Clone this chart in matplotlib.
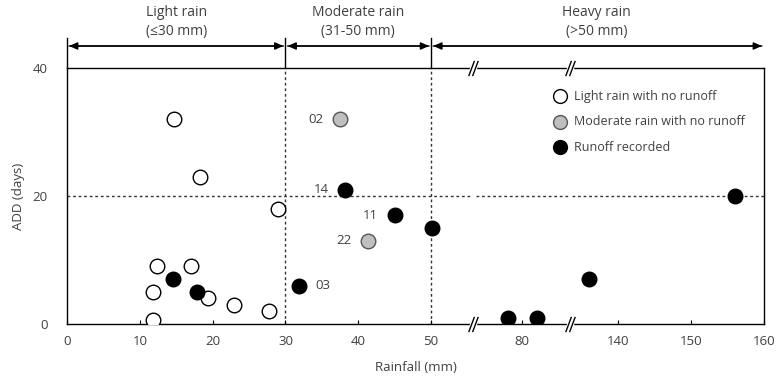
import numpy as np
import matplotlib.pyplot as plt
from matplotlib.path import Path

plt.rcParams['font.family'] = ['Open Sans', 'DejaVu Sans']

# data
light_x = [14.7, 18.2, 29.0, 12.3, 17.0, 11.8, 19.3, 22.9, 27.7, 11.8]
light_y = [32, 23, 18, 9, 9, 5, 4, 3, 2, 0.6]
moderate_x = [37.5, 41.3]
moderate_y = [32, 13]
moderate_lbl = ['02', '22']
runoff_x = [14.5, 17.8, 31.8, 38.2, 45.0, 50.1, 78, 82, 136, 156]
runoff_y = [7, 5, 6, 21, 17, 15, 1, 1, 7, 20]
runoff_lbl = ['', '', '03', '14', '11', '', '', '', '', '']
xticks = [0, 10, 20, 30, 40, 50, 80, 140, 150, 160]
yticks = [0, 20, 40]
classes = ['Light rain\n(≤30 mm)', 'Moderate rain\n(31-50 mm)', 'Heavy rain\n(>50 mm)']

# broken x axis: piecewise linear mapping
bx = [0, 55, 74, 86, 134, 170]
bu = [0, 55, 56.5, 68.5, 69.7, 105.7]
fwd = lambda x: np.interp(x, bx, bu)
inv = lambda u: np.interp(u, bu, bx)

txt = '#404040'
fig = plt.figure(figsize=(7.77, 3.88), dpi=100)
ax = fig.add_axes([0.0862, 0.165, 0.8971, 0.6597])
ax.set_xscale('function', functions=(fwd, inv))
ax.set_xlim(0, 160)
ax.set_ylim(0, 40)

ax.scatter(light_x, light_y, s=110, facecolor='white', edgecolor='black', lw=1, zorder=3,
           label='Light rain with no runoff')
ax.scatter(moderate_x, moderate_y, s=110, facecolor='#bfbfbf', edgecolor='#555555', lw=1, zorder=3,
           label='Moderate rain with no runoff')
ax.scatter(runoff_x, runoff_y, s=110, facecolor='black', edgecolor='black', lw=1, zorder=3,
           label='Runoff recorded')

for x, y, t in zip(moderate_x, moderate_y, moderate_lbl):
    ax.annotate(t, (x, y), xytext=(-12, 0), textcoords='offset points', ha='right', va='center',
                fontsize=9.5, color=txt)
for x, y, t in zip(runoff_x, runoff_y, runoff_lbl):
    if t == '03':
        ax.annotate(t, (x, y), xytext=(12, 0), textcoords='offset points', ha='left', va='center',
                    fontsize=9.5, color=txt)
    elif t:
        ax.annotate(t, (x, y), xytext=(-12, 0), textcoords='offset points', ha='right', va='center',
                    fontsize=9.5, color=txt)

# reference lines
dash = (0, (2, 2))
for xa, xb in [(0, 62), (70, 100), (120, 160)]:
    ax.plot([xa, xb], [20, 20], color='#333333', lw=1, ls=dash, zorder=1)
for xv in [30, 50]:
    ax.axvline(xv, color='#333333', lw=1, ls=dash, zorder=1)

trans = ax.get_xaxis_transform()
for xv in [0, 30, 50]:
    ax.plot([xv, xv], [1, 1.117], color='black', lw=1, transform=trans, clip_on=False)

bounds = [(0, 30), (30, 50), (50, 160)]
centers = [15, 40, 137]
for (a, b), c, lab in zip(bounds, centers, classes):
    ax.annotate('', xy=(a, 1.086), xytext=(b, 1.086), xycoords=trans, textcoords=trans,
                arrowprops=dict(arrowstyle='-|>,head_length=0.5,head_width=0.22', color='black',
                                lw=1, shrinkA=1.5, shrinkB=1.5))
    ax.annotate('', xy=(b, 1.086), xytext=(a, 1.086), xycoords=trans, textcoords=trans,
                arrowprops=dict(arrowstyle='-|>,head_length=0.5,head_width=0.22', color='black',
                                lw=1, shrinkA=1.5, shrinkB=1.5))
    ax.text(c, 1.18, lab, transform=trans, ha='center', va='center', fontsize=10,
            color=txt, linespacing=1.35)

# break marks on top and bottom spines
slash = Path([(-2.5, -4), (0.5, 4), (-0.5, -4), (2.5, 4)],
             [Path.MOVETO, Path.LINETO, Path.MOVETO, Path.LINETO])
for xbk in [64, 110]:
    for yy in [0, 1]:
        ax.plot([xbk], [yy], marker='s', ms=5, color='white', mec='white', transform=trans,
                clip_on=False, zorder=5)
        ax.plot([xbk], [yy], marker=slash, ms=11, color='black', mew=1, transform=trans,
                clip_on=False, zorder=6)

for sp in ax.spines.values():
    sp.set_linewidth(1)
    sp.set_color('black')

ax.set_xticks(xticks)
ax.set_xticklabels([str(v) for v in xticks])
ax.set_yticks(yticks)
ax.tick_params(axis='x', direction='in', length=3, labelsize=9.5, labelcolor=txt, pad=8)
ax.tick_params(axis='y', length=0, labelsize=9.5, labelcolor=txt, pad=14)
ax.set_xlabel('Rainfall (mm)', fontsize=9.5, color=txt, labelpad=9)
ax.set_ylabel('ADD (days)', fontsize=9.5, color=txt, labelpad=5)

ax.legend(loc='upper left', bbox_to_anchor=(0.682, 0.935), frameon=False, fontsize=9,
          handletextpad=0.1, labelspacing=1.0, markerscale=0.95, labelcolor=txt,
          borderaxespad=0)

fig.savefig('out.png', dpi=100)
